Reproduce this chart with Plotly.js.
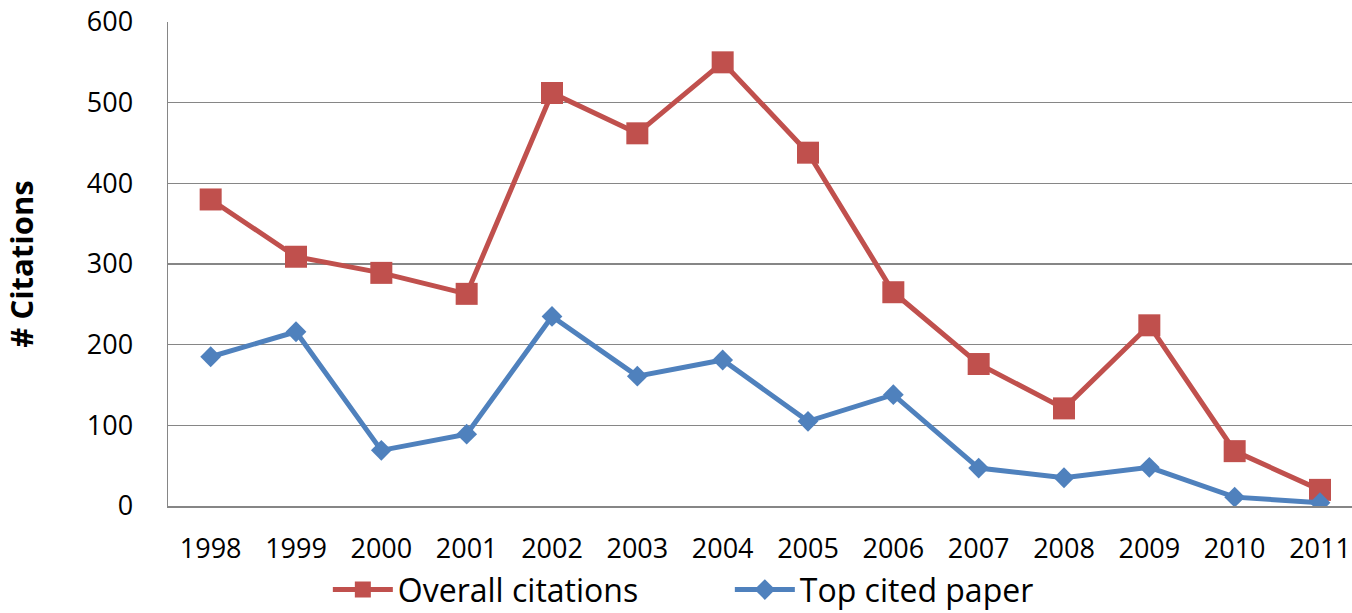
<!DOCTYPE html>
<html><head><meta charset="utf-8">
<script src="https://cdn.plot.ly/plotly-3.0.1.min.js"></script>
<style>body{margin:0;background:#fff}#chart{width:1352px;height:613px}</style>
</head><body><div id="chart"></div>
<script>
const years = ['1998','1999','2000','2001','2002','2003','2004','2005','2006','2007','2008','2009','2010','2011'];
const overallCitations = [380, 309, 289, 263, 512, 462, 550, 438, 265, 176, 121, 224, 68, 20];
const topCitedPaper = [185, 216, 69, 89, 235, 161, 181, 105, 138, 47, 35, 48, 11, 4];
const yTicks = [0, 100, 200, 300, 400, 500, 600];

const font = "Open Sans, Liberation Sans, sans-serif";
const traces = [
  {x: years, y: overallCitations, name: 'Overall citations', type: 'scatter', mode: 'lines+markers',
   line: {color: '#C0504D', width: 5}, marker: {symbol: 'square', size: 22, color: '#C0504D'}},
  {x: years, y: topCitedPaper, name: 'Top cited paper', type: 'scatter', mode: 'lines+markers',
   line: {color: '#4F81BD', width: 5}, marker: {symbol: 'diamond', size: 16, color: '#4F81BD'}}
];
const layout = {
  width: 1352, height: 613,
  margin: {l: 168, r: 0, t: 22, b: 107, autoexpand: false},
  paper_bgcolor: '#fff', plot_bgcolor: '#fff',
  font: {family: font, size: 27, color: '#000'},
  xaxis: {type: 'category', range: [-0.5, 13.375], showgrid: false, showline: true, linecolor: '#868686', linewidth: 1.5,
          ticks: '', ticklabelstandoff: 18, tickfont: {size: 27}, zeroline: false, fixedrange: true, automargin: false},
  yaxis: {range: [0, 600], tickvals: yTicks, showgrid: true, gridcolor: '#868686', gridwidth: 1.5,
          showline: true, linecolor: '#868686', linewidth: 1.5, ticks: '', ticklabelstandoff: 28,
          tickfont: {size: 27}, zeroline: false, automargin: false,
          title: {text: '# Citations', font: {size: 31, family: font, weight: 'bold'}, standoff: 48}},
  showlegend: true,
  legend: {orientation: 'h', x: 0.135, xanchor: 'left', y: -0.173, yanchor: 'middle',
           font: {size: 32}, itemwidth: 60, entrywidthmode: 'pixels', entrywidth: 327, tracegroupgap: 0,
           bgcolor: 'rgba(0,0,0,0)'}
};
Plotly.newPlot('chart', traces, layout, {displayModeBar: false, staticPlot: true});
</script></body></html>
